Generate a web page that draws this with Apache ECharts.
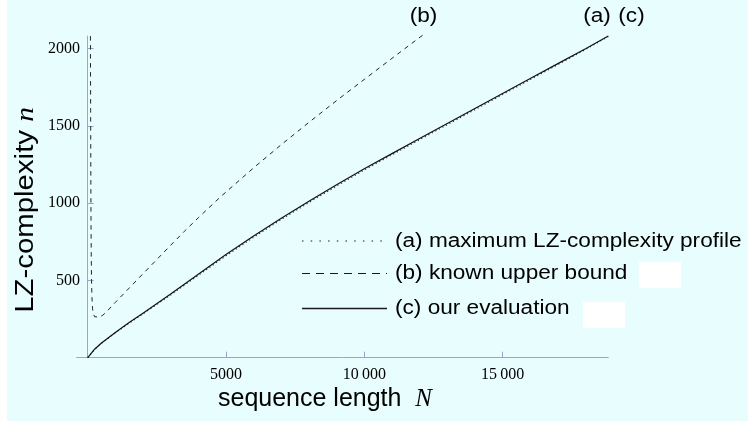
<!DOCTYPE html>
<html>
<head>
<meta charset="utf-8">
<script src="https://cdn.jsdelivr.net/npm/echarts@6/dist/echarts.min.js"></script>
<style>
  html, body { margin: 0; padding: 0; background: #ffffff; }
  #panel { position: absolute; left: 7px; top: 0; width: 741px; height: 421px; background: #e8fdfd; }
  #chart { position: absolute; left: 0; top: 0; width: 748px; height: 428px; }
</style>
</head>
<body>
<div id="panel"></div>
<div id="chart"></div>
<script>
// Sequence lengths N and LZ-complexity values n for the three curves
const evalN = [0, 100, 250, 500, 1000, 1500, 2000, 3000, 4000, 5000, 6000, 7000, 8000, 9000,
               10000, 11000, 12000, 13000, 14000, 15000, 16000, 17000, 18000, 18822];
const evalValues = [0, 22, 55, 95, 163, 227, 288, 412, 540, 667, 787, 902, 1012, 1118,
                    1222, 1320, 1418, 1515, 1612, 1709, 1806, 1902, 1998, 2080];

const profileN = evalN;
const profileValues = [0, 22, 54, 94, 161, 224, 284, 406, 533, 659, 779, 894, 1004, 1110,
                       1214, 1312, 1410, 1507, 1604, 1702, 1799, 1896, 1994, 2078];

const boundN = [100, 108, 115, 122, 130, 140, 155, 175, 200, 250, 320, 420, 550, 700, 1000,
                1500, 2000, 2500, 3000, 3500, 4000, 4800, 6000, 7000, 8000, 9000, 10000, 11000, 12200];
const boundValues = [2080, 1600, 1150, 850, 650, 500, 390, 320, 285, 265, 258, 262, 275, 300, 358,
                     450, 543, 635, 727, 818, 905, 1040, 1228, 1378, 1522, 1663, 1800, 1936, 2098];

// Axis ticks and their labels
const xTicks = [5000, 10000, 15000];
const xTickLabels = ['5000', '10\u2009000', '15\u2009000'];
const yTicks = [500, 1000, 1500, 2000];
const yTickLabels = ['500', '1000', '1500', '2000'];

const seriesNames = ['(a) maximum LZ-complexity profile', '(b) known upper bound', '(c) our evaluation'];
const curveTags = ['(a)', '(b)', '(c)'];

const zip = (xs, ys) => xs.map((x, i) => [x, ys[i]]);

const axisColor = '#9aa6c4';
const ink = '#1a1a1a';
const sans = '"Liberation Sans", Arial, Helvetica, sans-serif';
const serif = '"Liberation Serif", "Times New Roman", serif';
const wide = 1.13;   // horizontal stretch of the sans-serif captions

const chart = echarts.init(document.getElementById('chart'), null, { renderer: 'canvas' });

// key: sample stroke + caption for each curve
const keyRows = [
  { y: 241, dash: [1.5, 7.2], width: 1.2 },
  { y: 273.5, dash: [8, 6], width: 1.2 },
  { y: 308.5, dash: null, width: 1.4 }
];
const keyGraphics = [];
keyRows.forEach((row, i) => {
  keyGraphics.push({
    type: 'line', shape: { x1: 302, y1: row.y, x2: 387, y2: row.y },
    style: { stroke: ink, lineWidth: row.width, lineDash: row.dash }
  });
  keyGraphics.push({
    type: 'text', x: 395, y: row.y, scaleX: wide,
    style: { text: seriesNames[i], font: '20px ' + sans, fill: '#000', align: 'left', verticalAlign: 'middle' }
  });
});

const tag = (label, x) => ({
  type: 'text', x: x, y: 16, scaleX: wide,
  style: { text: label, font: '20px ' + sans, fill: '#000', align: 'center', verticalAlign: 'middle' }
});

chart.setOption({
  animation: false,
  backgroundColor: 'transparent',
  grid: { left: 76.6, top: 36.1, width: 531.7, height: 321.6, containLabel: false },
  xAxis: {
    type: 'value',
    min: -400,
    max: 18822,
    axisLine: { show: true, onZero: true, lineStyle: { color: axisColor, width: 1 } },
    axisTick: { show: true, inside: true, length: 6, customValues: xTicks,
                lineStyle: { color: axisColor, width: 1 } },
    axisLabel: {
      customValues: xTicks,
      formatter: v => xTickLabels[xTicks.indexOf(v)],
      fontFamily: serif, fontSize: 16, color: '#000', margin: 9
    },
    splitLine: { show: false }
  },
  yAxis: {
    type: 'value',
    min: 0,
    max: 2080,
    axisLine: { show: true, onZero: true, lineStyle: { color: axisColor, width: 1 } },
    axisTick: { show: true, inside: true, length: 6, customValues: yTicks,
                lineStyle: { color: axisColor, width: 1 } },
    axisLabel: {
      customValues: yTicks,
      formatter: v => yTickLabels[yTicks.indexOf(v)],
      fontFamily: serif, fontSize: 16, color: '#000', margin: -3.4
    },
    splitLine: { show: false }
  },
  series: [
    {
      name: seriesNames[0], type: 'line', data: zip(profileN, profileValues),
      symbol: 'none', clip: false, z: 3,
      lineStyle: { color: '#333', width: 1.2, type: [1.2, 2.8] }
    },
    {
      name: seriesNames[1], type: 'line', data: zip(boundN, boundValues),
      symbol: 'none', clip: false, z: 3,
      lineStyle: { color: '#222', width: 1, type: [4.5, 4.5] }
    },
    {
      name: seriesNames[2], type: 'line', data: zip(evalN, evalValues),
      symbol: 'none', clip: false, z: 4,
      lineStyle: { color: '#111', width: 1.2, type: 'solid' }
    }
  ],
  graphic: [
    ...keyGraphics,
    tag(curveTags[1], 423.5),
    tag(curveTags[0], 597),
    tag(curveTags[2], 631.5),
    { type: 'rect', shape: { x: 639, y: 262, width: 42, height: 26 }, style: { fill: '#ffffff' }, z: 10 },
    { type: 'rect', shape: { x: 583, y: 302, width: 42, height: 26 }, style: { fill: '#ffffff' }, z: 10 },
    {
      type: 'text', x: 325, y: 412,
      style: {
        text: '{s|sequence length  }{i|N}',
        align: 'center', verticalAlign: 'bottom',
        rich: {
          s: { fontFamily: sans, fontSize: 25, fill: '#000' },
          i: { fontFamily: serif, fontStyle: 'italic', fontSize: 25, fill: '#000' }
        }
      }
    },
    {
      type: 'text', x: 26, y: 210, rotation: Math.PI / 2, scaleX: wide,
      style: {
        text: '{s|LZ-complexity }{i|n}',
        align: 'center', verticalAlign: 'middle',
        rich: {
          s: { fontFamily: sans, fontSize: 26, fill: '#000' },
          i: { fontFamily: serif, fontStyle: 'italic', fontSize: 26, fill: '#000' }
        }
      }
    }
  ]
});
</script>
</body>
</html>
